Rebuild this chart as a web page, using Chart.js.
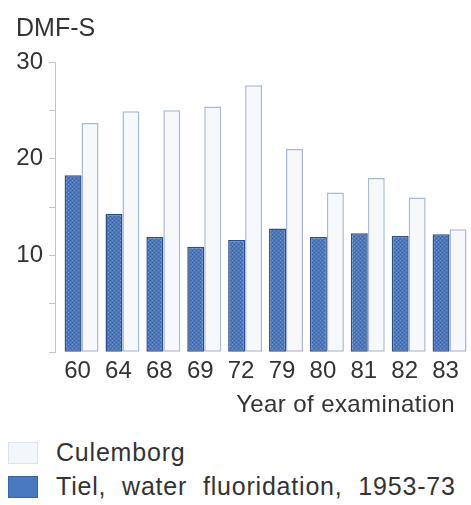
<!DOCTYPE html>
<html>
<head>
<meta charset="utf-8">
<script src="https://cdn.jsdelivr.net/npm/chart.js@4/dist/chart.umd.min.js"></script>
<style>
  html, body { margin: 0; padding: 0; background: #fff; }
  #quadro { position: relative; width: 471px; height: 505px; font-family: "Liberation Sans", Arial, sans-serif; color: #333; }
  #grafico { position: absolute; left: 0; top: 0; }
  .titulo-x { position: absolute; right: 16px; top: 390px; font-size: 24px; letter-spacing: 0.4px; }
  .legenda { position: absolute; left: 8px; display: flex; align-items: center; font-size: 25px; letter-spacing: 0.8px; word-spacing: 8px; }
  .legenda span.caixa { display: inline-block; width: 30px; height: 22px; margin-right: 18px; box-sizing: border-box; }
</style>
</head>
<body>
<div id="quadro">
  <canvas id="grafico" width="471" height="391"></canvas>
  <div class="titulo-x">Year of examination</div>
  <div class="legenda" style="top:438px"><span class="caixa" id="caixaCulemborg"></span><span id="textoCulemborg"></span></div>
  <div class="legenda" style="top:472px"><span class="caixa" id="caixaTiel"></span><span id="textoTiel"></span></div>
</div>
<script>
// dados (DMF-S por ano de exame)
const anos = ["60", "64", "68", "69", "72", "79", "80", "81", "82", "83"]
const tiel = [18.3, 14.3, 11.9, 10.9, 11.6, 12.8, 11.9, 12.3, 12.0, 12.2]
const culemborg = [23.7, 24.9, 25.0, 25.4, 27.6, 21.0, 16.5, 18.0, 16.0, 12.7]
const rotuloTiel = "Tiel, water fluoridation, 1953-73"
const rotuloCulemborg = "Culemborg"
const ticksY = [10, 20, 30]

const corTexto = "#333"
const corEixo = "#c4c4c4"

// textura pontilhada para as barras de Tiel
function criarTextura() {
  const c = document.createElement("canvas")
  c.width = 4
  c.height = 4
  const g = c.getContext("2d")
  g.fillStyle = "#4a78c0"
  g.fillRect(0, 0, 4, 4)
  g.fillStyle = "#6f95d2"
  g.fillRect(0, 0, 1, 1)
  g.fillRect(2, 2, 1, 1)
  g.fillStyle = "#3a64a8"
  g.fillRect(2, 0, 1, 1)
  g.fillRect(0, 2, 1, 1)
  return g.createPattern(c, "repeat")
}

const ctx = document.getElementById("grafico").getContext("2d")
const textura = criarTextura()

new Chart(ctx, {
  type: "bar",
  data: {
    datasets: [
      {
        label: rotuloTiel,
        data: tiel.map((v, i) => ({ x: i, y: v })),
        backgroundColor: textura,
        borderColor: "#2c4f88",
        borderWidth: 1.5,
        borderSkipped: false,
        categoryPercentage: 0.83,
        barPercentage: 1.0,
      },
      {
        label: rotuloCulemborg,
        data: culemborg.map((v, i) => ({ x: i, y: v })),
        backgroundColor: "#f6f8fc",
        borderColor: "#a9b8d4",
        borderWidth: 1.5,
        borderSkipped: false,
        categoryPercentage: 0.83,
        barPercentage: 1.0,
      },
    ],
  },
  options: {
    responsive: false,
    animation: false,
    layout: { padding: { left: 16, right: 1, top: 0, bottom: 0 } },
    scales: {
      x: {
        type: "linear",
        offset: false,
        min: -0.65,
        max: 9.5,
        grid: { display: false, drawTicks: false },
        border: { display: false },
        ticks: {
          stepSize: 1,
          includeBounds: false,
          autoSkip: false,
          maxRotation: 0,
          padding: 5,
          labelOffset: -4,
          color: corTexto,
          font: { family: "Liberation Sans", size: 24 },
          callback: (v) => (Number.isInteger(v) && anos[v] !== undefined ? anos[v] : ""),
        },
      },
      y: {
        min: 0,
        max: 30,
        afterFit: (escala) => {
          escala.width = 39
        },
        grid: { drawOnChartArea: false, color: corEixo, tickLength: 6 },
        border: { color: corEixo, width: 1 },
        ticks: {
          stepSize: 5,
          padding: 6,
          color: corTexto,
          font: { family: "Liberation Sans", size: 24 },
          callback: (v) => (ticksY.includes(v) ? String(v) : ""),
        },
      },
    },
    plugins: {
      legend: { display: false },
      tooltip: { enabled: false },
      title: {
        display: true,
        text: "DMF-S",
        align: "start",
        color: corTexto,
        font: { family: "Liberation Sans", size: 25, weight: "normal" },
        padding: { top: 14, bottom: 18 },
      },
    },
  },
})

// legenda em HTML, empilhada como na figura
document.getElementById("textoCulemborg").textContent = rotuloCulemborg
document.getElementById("textoTiel").textContent = rotuloTiel
const caixaC = document.getElementById("caixaCulemborg")
caixaC.style.background = "#f3f6fb"
caixaC.style.border = "1px solid #dde3ee"
const caixaT = document.getElementById("caixaTiel")
caixaT.style.background = "#4a78c0"
caixaT.style.border = "1px solid #3a64a8"
</script>
</body>
</html>
